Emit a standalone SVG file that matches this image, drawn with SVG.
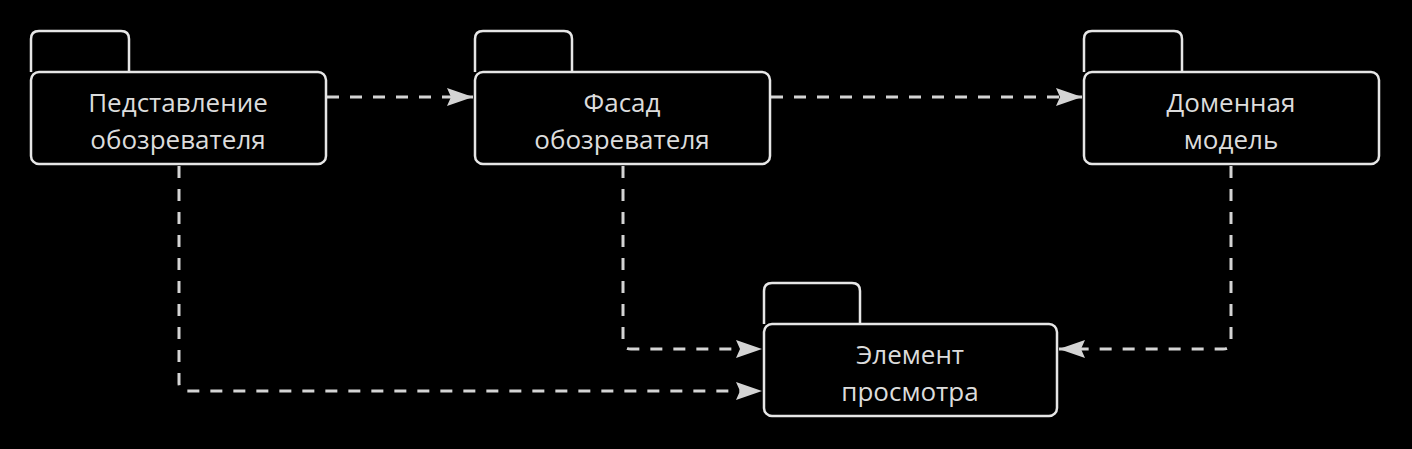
<svg xmlns="http://www.w3.org/2000/svg" width="1412" height="449" viewBox="0 0 1412 449">
<style>
.box{fill:#000;stroke:#e6e6e6;stroke-width:2.5}
.lbl{font-family:"Open Sans","Noto Sans",sans-serif;font-size:26px;fill:#dcdcdc;text-anchor:middle}
.edge{fill:none;stroke:#d4d4d4;stroke-width:3;stroke-dasharray:12 11}
</style>
<defs>
<marker id="arr" viewBox="0 0 26 18" refX="26" refY="9" markerWidth="26" markerHeight="18" markerUnits="userSpaceOnUse" orient="auto">
<path d="M0,0 L26,9 L0,18 L4,9 Z" fill="#d4d4d4"/>
</marker>
</defs>
<rect width="1412" height="449" fill="#000"/>
<g id="connectors">
<path class="edge" d="M327,97 H473" marker-end="url(#arr)"/>
<path class="edge" d="M771,97 H1082" marker-end="url(#arr)"/>
<path class="edge" d="M179,166 V383 Q179,391 187,391 H762" marker-end="url(#arr)"/>
<path class="edge" d="M623,166 V341 Q623,349 631,349 H762" marker-end="url(#arr)"/>
<path class="edge" d="M1231,166 V341 Q1231,349 1223,349 H1059" marker-end="url(#arr)"/>
</g>
<g id="node-view">
<path class="box" d="M31,72 V39 Q31,31 39,31 H121 Q129,31 129,39 V72"/>
<rect class="box" x="31" y="72" width="295" height="92" rx="8"/>
<text class="lbl" x="178" y="112">Педставление</text>
<text class="lbl" x="178" y="149">обозревателя</text>
</g>
<g id="node-facade">
<path class="box" d="M475,72 V39 Q475,31 483,31 H564 Q572,31 572,39 V72"/>
<rect class="box" x="475" y="72" width="295" height="92" rx="8"/>
<text class="lbl" x="622" y="112">Фасад</text>
<text class="lbl" x="622" y="149">обозревателя</text>
</g>
<g id="node-domain">
<path class="box" d="M1084,72 V39 Q1084,31 1092,31 H1174 Q1182,31 1182,39 V72"/>
<rect class="box" x="1084" y="72" width="295" height="92" rx="8"/>
<text class="lbl" x="1231" y="112">Доменная</text>
<text class="lbl" x="1231" y="149">модель</text>
</g>
<g id="node-element">
<path class="box" d="M764,324 V291 Q764,283 772,283 H852 Q860,283 860,291 V324"/>
<rect class="box" x="764" y="324" width="293" height="92" rx="8"/>
<text class="lbl" x="910" y="364">Элемент</text>
<text class="lbl" x="910" y="401">просмотра</text>
</g>
</svg>
